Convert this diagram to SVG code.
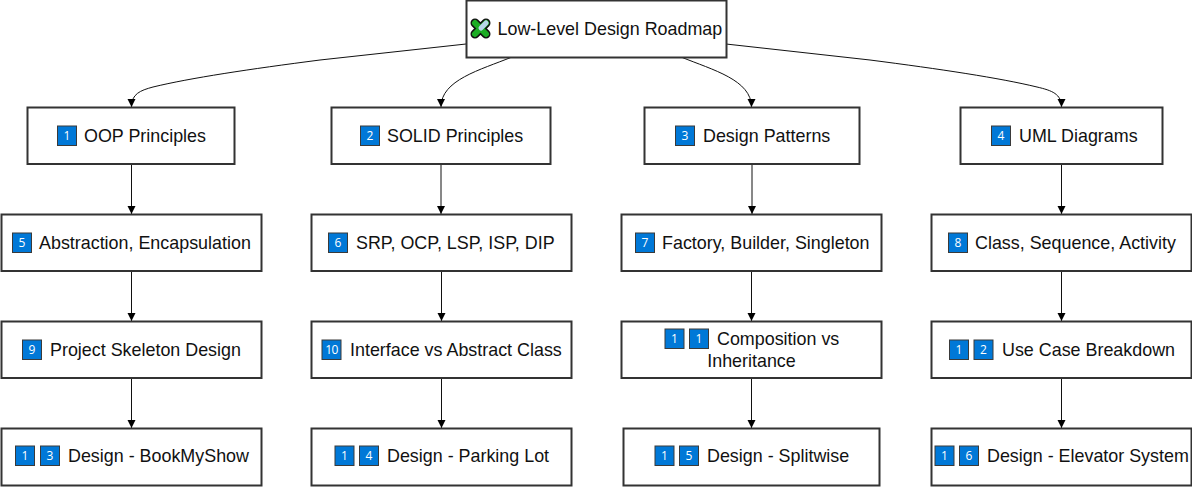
<svg xmlns="http://www.w3.org/2000/svg" width="1192" height="487" viewBox="0 0 1192 487">
<style>
.box{fill:#fff;stroke:#333;stroke-width:2}
.t{font-family:"Liberation Sans",Arial,sans-serif;font-size:17.9px;fill:#111}
.k{fill:#0078d7;stroke:#3a3a3a;stroke-width:1}
.d{font-family:"Open Sans","Noto Sans",sans-serif;font-size:12px;fill:#fff;text-anchor:middle}
.c{fill:none;stroke:#111;stroke-width:1}
</style>
<defs>
<marker id="arrow" markerUnits="userSpaceOnUse" markerWidth="9" markerHeight="9" refX="8" refY="4.5" orient="auto"><path d="M0 0.500L8 4.500L0 8.500Z" fill="#000"/></marker>
</defs>
<g id="connectors">
<path class="c" marker-end="url(#arrow)" d="M466 44L320 60C250 69 190 78 153 87C140 90.500 131.500 94 131.500 107"/>
<path class="c" marker-end="url(#arrow)" d="M512 57C480 70 441 80 441 107"/>
<path class="c" marker-end="url(#arrow)" d="M681 57C713 70 751.500 80 751.500 107"/>
<path class="c" marker-end="url(#arrow)" d="M726 44L870 60C940 69 1000 78 1037 87C1052 90.500 1061.500 94 1061.500 107"/>
<path class="c" marker-end="url(#arrow)" d="M131.500 164V214"/>
<path class="c" marker-end="url(#arrow)" d="M131.500 271V321"/>
<path class="c" marker-end="url(#arrow)" d="M131.500 378V428"/>
<path class="c" marker-end="url(#arrow)" d="M441 164V214"/>
<path class="c" marker-end="url(#arrow)" d="M441.500 271V321"/>
<path class="c" marker-end="url(#arrow)" d="M441.500 378V428"/>
<path class="c" marker-end="url(#arrow)" d="M752 164V214"/>
<path class="c" marker-end="url(#arrow)" d="M751.500 271V321"/>
<path class="c" marker-end="url(#arrow)" d="M751.500 378V428"/>
<path class="c" marker-end="url(#arrow)" d="M1061.500 164V214"/>
<path class="c" marker-end="url(#arrow)" d="M1061.500 271V321"/>
<path class="c" marker-end="url(#arrow)" d="M1061.500 378V428"/>
</g>
<g id="root">
<rect class="box" x="466.500" y="0.500" width="260" height="57"/>
<path d="M475 23L486 34M486 23L475 34" fill="none" stroke="#111" stroke-width="9" stroke-linecap="round"/>
<path d="M475 23L486 34M486 23L475 34" fill="none" stroke="#1cad24" stroke-width="6" stroke-linecap="round"/>
<path d="M481 28L486 23" fill="none" stroke="#b8d6e8" stroke-width="5" stroke-linecap="round"/>
<text class="t" x="497.500" y="35">Low-Level Design Roadmap</text>
</g>
<g id="n1"><rect class="box" x="27.500" y="107.500" width="207" height="56.500"/><rect class="k" x="57.500" y="126" width="19" height="19.500"/><text class="d" x="67" y="140">1</text><text class="t" x="84" y="142">OOP Principles</text></g>
<g id="n2"><rect class="box" x="331.500" y="107.500" width="219" height="56.500"/><rect class="k" x="360.500" y="126" width="19" height="19.500"/><text class="d" x="370" y="140">2</text><text class="t" x="387" y="142">SOLID Principles</text></g>
<g id="n3"><rect class="box" x="644.500" y="107.500" width="215" height="56.500"/><rect class="k" x="675.500" y="126" width="19" height="19.500"/><text class="d" x="685" y="140">3</text><text class="t" x="703" y="142">Design Patterns</text></g>
<g id="n4"><rect class="box" x="960.500" y="107.500" width="202" height="56.500"/><rect class="k" x="991.500" y="126" width="19" height="19.500"/><text class="d" x="1001" y="140">4</text><text class="t" x="1019" y="142">UML Diagrams</text></g>
<g id="n5"><rect class="box" x="1.500" y="214.500" width="260" height="56.500"/><rect class="k" x="12.500" y="233" width="19" height="19.500"/><text class="d" x="22" y="247">5</text><text class="t" x="39" y="249">Abstraction, Encapsulation</text></g>
<g id="n6"><rect class="box" x="311.500" y="214.500" width="260" height="56.500"/><rect class="k" x="328.500" y="233" width="19" height="19.500"/><text class="d" x="338" y="247">6</text><text class="t" x="356" y="249">SRP, OCP, LSP, ISP, DIP</text></g>
<g id="n7"><rect class="box" x="621.500" y="214.500" width="260" height="56.500"/><rect class="k" x="635.500" y="233" width="19" height="19.500"/><text class="d" x="645" y="247">7</text><text class="t" x="662" y="249">Factory, Builder, Singleton</text></g>
<g id="n8"><rect class="box" x="931.500" y="214.500" width="260" height="56.500"/><rect class="k" x="948.500" y="233" width="19" height="19.500"/><text class="d" x="958" y="247">8</text><text class="t" x="975" y="249">Class, Sequence, Activity</text></g>
<g id="n9"><rect class="box" x="1.500" y="321.500" width="260" height="56.500"/><rect class="k" x="22.500" y="340" width="19" height="19.500"/><text class="d" x="32" y="354">9</text><text class="t" x="50" y="356">Project Skeleton Design</text></g>
<g id="n10"><rect class="box" x="311.500" y="321.500" width="260" height="56.500"/><rect class="k" x="322" y="340" width="19" height="19.500"/><text class="d" x="331.500" y="354" style="letter-spacing:-.5px">10</text><text class="t" x="350" y="356">Interface vs Abstract Class</text></g>
<g id="n11"><rect class="box" x="621.500" y="321.500" width="260" height="56.500"/><rect class="k" x="665" y="329" width="19" height="19.500"/><text class="d" x="674.500" y="343">1</text><rect class="k" x="689.500" y="329" width="19" height="19.500"/><text class="d" x="699" y="343">1</text><text class="t" x="717" y="345">Composition vs</text><text class="t" x="751.500" y="367" text-anchor="middle">Inheritance</text></g>
<g id="n12"><rect class="box" x="931.500" y="321.500" width="260" height="56.500"/><rect class="k" x="949.500" y="340" width="19" height="19.500"/><text class="d" x="959" y="354">1</text><rect class="k" x="974" y="340" width="19" height="19.500"/><text class="d" x="983.500" y="354">2</text><text class="t" x="1002" y="356">Use Case Breakdown</text></g>
<g id="n13"><rect class="box" x="1.500" y="428.500" width="260" height="57"/><rect class="k" x="15.500" y="446" width="19" height="19.500"/><text class="d" x="25" y="460">1</text><rect class="k" x="40.500" y="446" width="19" height="19.500"/><text class="d" x="50" y="460">3</text><text class="t" x="68" y="462">Design - BookMyShow</text></g>
<g id="n14"><rect class="box" x="311.500" y="428.500" width="260" height="57"/><rect class="k" x="335" y="446" width="19" height="19.500"/><text class="d" x="344.500" y="460">1</text><rect class="k" x="359.500" y="446" width="19" height="19.500"/><text class="d" x="369" y="460">4</text><text class="t" x="387" y="462">Design - Parking Lot</text></g>
<g id="n15"><rect class="box" x="623.500" y="428.500" width="256" height="57"/><rect class="k" x="655" y="446" width="19" height="19.500"/><text class="d" x="664.500" y="460">1</text><rect class="k" x="679.500" y="446" width="19" height="19.500"/><text class="d" x="689" y="460">5</text><text class="t" x="707" y="462">Design - Splitwise</text></g>
<g id="n16"><rect class="box" x="931.500" y="428.500" width="260" height="57"/><rect class="k" x="935" y="446" width="19" height="19.500"/><text class="d" x="944.500" y="460">1</text><rect class="k" x="959.500" y="446" width="19" height="19.500"/><text class="d" x="969" y="460">6</text><text class="t" x="987" y="462">Design - Elevator System</text></g>
</svg>
